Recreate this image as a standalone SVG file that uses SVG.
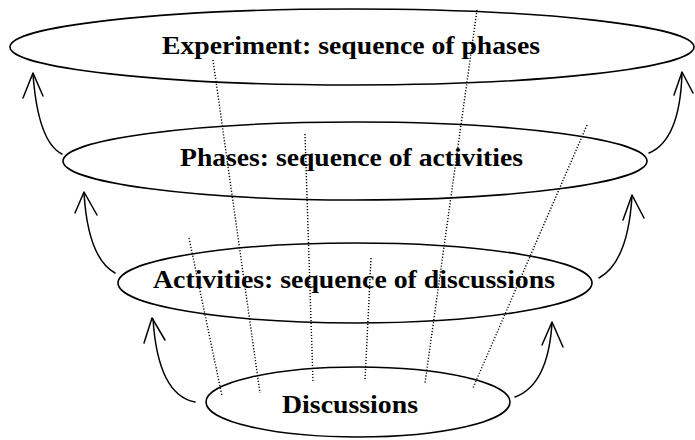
<svg xmlns="http://www.w3.org/2000/svg" width="695" height="440" viewBox="0 0 695 440">
<style>
.ell{fill:none;stroke:#000;stroke-width:1.6}
.lbl{font-family:"Liberation Serif","Times New Roman",serif;font-size:25px;font-weight:bold;fill:#000}
.arr{fill:none;stroke:#000;stroke-width:1.5;stroke-linecap:round;stroke-linejoin:round}
.dot{fill:none;stroke:#000;stroke-width:1.4;stroke-dasharray:1.2 1.8}
</style>
<rect width="695" height="440" fill="#fff"/>
<g id="experiment">
<ellipse class="ell" cx="352" cy="47" rx="342" ry="38"/>
<text class="lbl" x="162" y="54" textLength="378" lengthAdjust="spacingAndGlyphs">Experiment: sequence of phases</text>
</g>
<g id="phases">
<ellipse class="ell" cx="355" cy="161" rx="292" ry="39"/>
<text class="lbl" x="180" y="166" textLength="343" lengthAdjust="spacingAndGlyphs">Phases: sequence of activities</text>
</g>
<g id="activities">
<ellipse class="ell" cx="355" cy="283" rx="237" ry="40"/>
<text class="lbl" x="153" y="288" textLength="402" lengthAdjust="spacingAndGlyphs">Activities: sequence of discussions</text>
</g>
<g id="discussions">
<ellipse class="ell" cx="358" cy="402" rx="152" ry="35"/>
<text class="lbl" x="282" y="413" textLength="136" lengthAdjust="spacingAndGlyphs">Discussions</text>
</g>
<g id="connectors">
<path class="arr" d="M62,154 Q38,142 33,74"/>
<polyline class="arr" points="23,98 33,73 43,96"/>
<path class="arr" d="M115,273 Q88,258 84,193"/>
<polyline class="arr" points="75,213 84,192 97,215"/>
<path class="arr" d="M195,402 Q158,395 153,319"/>
<polyline class="arr" points="144,343 152,318 165,340"/>
<path class="arr" d="M649,153 Q680,140 682,73"/>
<polyline class="arr" points="674,95 682,72 693,93"/>
<path class="arr" d="M599,278 Q628,262 632,196"/>
<polyline class="arr" points="623,220 632,195 644,218"/>
<path class="arr" d="M515,397 Q548,385 552,323"/>
<polyline class="arr" points="542,345 552,322 563,347"/>
<line class="dot" x1="213" y1="60" x2="260" y2="393"/>
<line class="dot" x1="305" y1="134" x2="313" y2="382"/>
<line class="dot" x1="189" y1="238" x2="222" y2="396"/>
<line class="dot" x1="477" y1="10" x2="425" y2="383"/>
<line class="dot" x1="587" y1="125" x2="473" y2="388"/>
<line class="dot" x1="371" y1="258" x2="365" y2="381"/>
</g>
</svg>
